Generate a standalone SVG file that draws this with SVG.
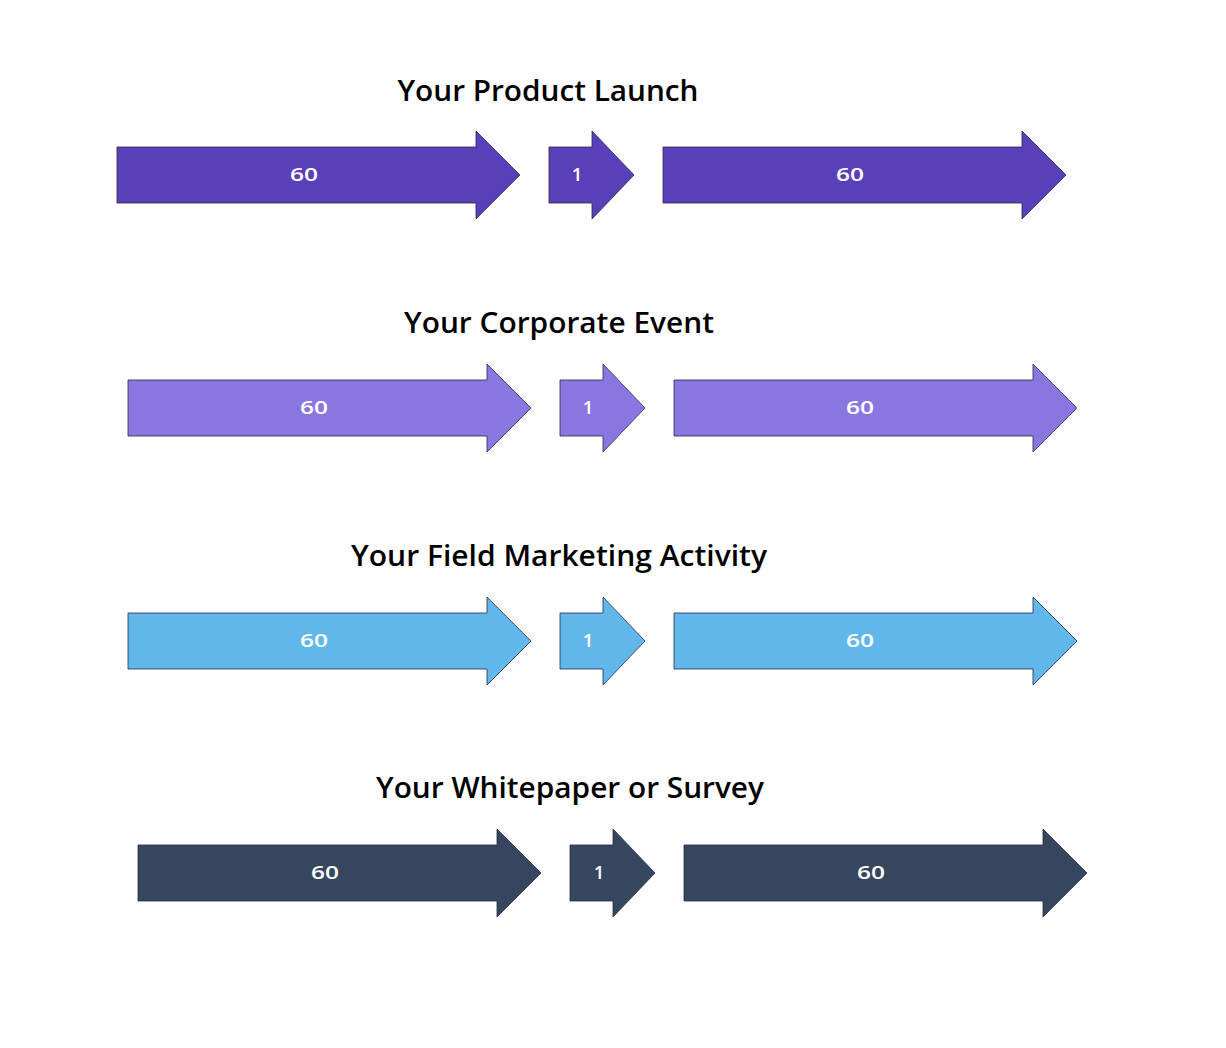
<svg xmlns="http://www.w3.org/2000/svg" width="1226" height="1048" viewBox="0 0 1226 1048">
<style>
.title{font-family:"Open Sans","Liberation Sans",sans-serif;font-weight:600;font-size:28px;fill:#000;text-anchor:middle}
.num{font-family:"Open Sans","Liberation Sans",sans-serif;font-weight:600;font-size:18.5px;fill:#fff;text-anchor:middle}
.arr{stroke:#2a2a4a;stroke-width:0.8;stroke-linejoin:miter}
.c1{fill:#5940BA}.c2{fill:#8A76E0}.c3{fill:#62B7EA}.c4{fill:#35465E}
</style>
<rect width="1226" height="1048" fill="#fff"/>
<defs>
<path id="big" d="M0,16 H359 V0 L403,44 L359,88 V72 H0 Z"/>
<path id="small" d="M0,16 H43 V0 L85,44 L43,88 V72 H0 Z"/>
</defs>
<g id="row1">
<text class="title" x="548" y="101" textLength="301" lengthAdjust="spacingAndGlyphs">Your Product Launch</text>
<g id="r1a1"><use href="#big" class="arr c1" x="117" y="131"/><text class="num" x="304" y="181" textLength="28" lengthAdjust="spacingAndGlyphs">60</text></g>
<g id="r1a2"><use href="#small" class="arr c1" x="549" y="131"/><text class="num" x="577" y="181">1</text></g>
<g id="r1a3"><use href="#big" class="arr c1" x="663" y="131"/><text class="num" x="850" y="181" textLength="28" lengthAdjust="spacingAndGlyphs">60</text></g>
</g>
<g id="row2">
<text class="title" x="559" y="333" textLength="310" lengthAdjust="spacingAndGlyphs">Your Corporate Event</text>
<g id="r2a1"><use href="#big" class="arr c2" x="128" y="364"/><text class="num" x="314" y="414" textLength="28" lengthAdjust="spacingAndGlyphs">60</text></g>
<g id="r2a2"><use href="#small" class="arr c2" x="560" y="364"/><text class="num" x="588" y="414">1</text></g>
<g id="r2a3"><use href="#big" class="arr c2" x="674" y="364"/><text class="num" x="860" y="414" textLength="28" lengthAdjust="spacingAndGlyphs">60</text></g>
</g>
<g id="row3">
<text class="title" x="559" y="566" textLength="416" lengthAdjust="spacingAndGlyphs">Your Field Marketing Activity</text>
<g id="r3a1"><use href="#big" class="arr c3" x="128" y="597"/><text class="num" x="314" y="647" textLength="28" lengthAdjust="spacingAndGlyphs">60</text></g>
<g id="r3a2"><use href="#small" class="arr c3" x="560" y="597"/><text class="num" x="588" y="647">1</text></g>
<g id="r3a3"><use href="#big" class="arr c3" x="674" y="597"/><text class="num" x="860" y="647" textLength="28" lengthAdjust="spacingAndGlyphs">60</text></g>
</g>
<g id="row4">
<text class="title" x="570" y="798" textLength="388" lengthAdjust="spacingAndGlyphs">Your Whitepaper or Survey</text>
<g id="r4a1"><use href="#big" class="arr c4" x="138" y="829"/><text class="num" x="325" y="879" textLength="28" lengthAdjust="spacingAndGlyphs">60</text></g>
<g id="r4a2"><use href="#small" class="arr c4" x="570" y="829"/><text class="num" x="599" y="879">1</text></g>
<g id="r4a3"><use href="#big" class="arr c4" x="684" y="829"/><text class="num" x="871" y="879" textLength="28" lengthAdjust="spacingAndGlyphs">60</text></g>
</g>
<g id="connectors"/>
</svg>
